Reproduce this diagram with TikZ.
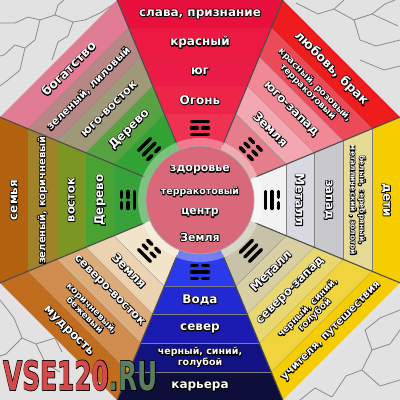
\documentclass[tikz,border=0pt]{standalone}
\usepackage{fontspec}
\setmainfont{DejaVu Sans}
\usetikzlibrary{calc}

\definecolor{bg}{HTML}{E2E2E2}
\definecolor{crack}{HTML}{8C8C8C}
\definecolor{s1}{HTML}{E8103C}\definecolor{s2}{HTML}{EC1A42}\definecolor{s3}{HTML}{EA1C46}\definecolor{s4}{HTML}{EE2449}\definecolor{s5}{HTML}{F03252}
\definecolor{sw1}{HTML}{EE1C1C}\definecolor{sw2}{HTML}{EC4A58}\definecolor{sw3}{HTML}{F08896}\definecolor{sw4}{HTML}{F3A7B0}\definecolor{sw5}{HTML}{E57E8A}
\definecolor{we1}{HTML}{F6CD00}\definecolor{we2}{HTML}{E6DA94}\definecolor{we3}{HTML}{C9C9CD}\definecolor{we4}{HTML}{D9D9E4}\definecolor{we5}{HTML}{F2F2F2}
\definecolor{nw1}{HTML}{F6CD00}\definecolor{nw2}{HTML}{F1D33C}\definecolor{nw3}{HTML}{E9D772}\definecolor{nw4}{HTML}{D8D0A2}\definecolor{nw5}{HTML}{C8C3A8}
\definecolor{n1}{HTML}{0E0E3A}\definecolor{n2}{HTML}{121282}\definecolor{n3}{HTML}{1B1BB2}\definecolor{n4}{HTML}{2129D2}\definecolor{n5}{HTML}{2A3AEA}
\definecolor{ne1}{HTML}{C26C1E}\definecolor{ne2}{HTML}{D08D4E}\definecolor{ne3}{HTML}{DCAC7A}\definecolor{ne4}{HTML}{EBD3B1}\definecolor{ne5}{HTML}{F2E4C8}
\definecolor{e1}{HTML}{B2620E}\definecolor{e2}{HTML}{A0822A}\definecolor{e3}{HTML}{7B9622}\definecolor{e4}{HTML}{4AA232}\definecolor{e5}{HTML}{38A23A}
\definecolor{se1}{HTML}{E27C94}\definecolor{se2}{HTML}{B98686}\definecolor{se3}{HTML}{A19A7A}\definecolor{se4}{HTML}{58A242}\definecolor{se5}{HTML}{32A234}
\definecolor{cpink}{HTML}{D9687A}
\definecolor{logored}{HTML}{D24A4A}
\definecolor{logogreen}{HTML}{5A7E5A}

% outlined text: a stroked black copy under a filled coloured copy
\newcommand\olc[2]{{\setbox0=\hbox{#2}%
\rlap{\color{black}\special{pdf:code 1 Tr 1.6 w 1 j 0 G}\copy0\special{pdf:code 0 Tr}}%
\color{#1}\box0}}
\newcommand\olt[1]{\olc{white}{#1}}
\newcommand\fs[2]{\fontsize{#1}{#2}\selectfont}

\tikzset{
  lbl/.style={inner sep=0pt, align=center},
  sepline/.style={draw=black!70, line width=1.1pt},
  bandedge/.style={draw=black!50, line width=0.6pt},
  tri/.style={line width=3.4pt, line cap=round, draw=black},
  crk/.style={draw=crack, line width=0.8pt, line join=round}
}

\newcommand\bandq[4]{\fill[#4] (#1-22.5:#2) -- (#1+22.5:#2) -- (#1+22.5:#3) -- (#1-22.5:#3) -- cycle;
  \draw[bandedge] (#1-22.5:#3) -- (#1+22.5:#3);}
\newcommand\sect[6]{\bandq{#1}{216.48}{186.17}{#2}\bandq{#1}{186.17}{154.78}{#3}%
  \bandq{#1}{154.78}{123.39}{#4}\bandq{#1}{123.39}{93.09}{#5}%
  \fill[#6] (#1-22.5:93.09) -- (#1+22.5:93.09) -- (0,0) -- cycle;}
\newcommand\trl[2]{\ifnum#2=1 \draw[tri] (-8.5,#1) -- (8.5,#1);\else \draw[tri] (-8.5,#1) -- (-2.6,#1) (2.6,#1) -- (8.5,#1);\fi}
\newcommand\trig[4]{\begin{scope}[shift={(#1:72)}, rotate=#1-90]
  \trl{6.5}{#2}\trl{0}{#3}\trl{-6.5}{#4}\end{scope}}

\begin{document}
\begin{tikzpicture}[x=1pt,y=1pt]
\useasboundingbox (-200,-200) rectangle (200,200);
\fill[bg] (-200,-200) rectangle (200,200);

% cracks in the background (image coordinates)
\begin{scope}[shift={(-200,200)}, yscale=-1]
\draw[crk] (0,23) -- (15,23) -- (28,17) -- (40,20) -- (55,15) -- (73,22) -- (85,20) -- (100,13) -- (114,4);
\draw[crk] (40,20) -- (35,40) -- (25,48) -- (15,45) -- (4,55) -- (0,56);
\draw[crk] (55,15) -- (58,5) -- (64,0);
\draw[crk] (25,48) -- (20,70) -- (8,80) -- (0,86);
\draw[crk] (73,22) -- (68,36) -- (58,42) -- (52,60);
\draw[crk] (296,3) -- (318,14) -- (334,9) -- (354,20) -- (372,14) -- (398,26);
\draw[crk] (334,9) -- (344,0);
\draw[crk] (354,20) -- (360,40) -- (376,46) -- (400,40);
\draw[crk] (372,14) -- (385,4) -- (395,0);
\draw[crk] (360,60) -- (384,70) -- (400,66);
\draw[crk] (332,397) -- (346,376) -- (362,370) -- (372,350) -- (390,344) -- (400,330);
\draw[crk] (362,370) -- (380,386) -- (400,380);
\draw[crk] (372,350) -- (365,330) -- (380,318) -- (400,310);
\draw[crk] (300,400) -- (315,388) -- (332,397);
\draw[crk] (0,300) -- (14,318) -- (22,338) -- (36,344) -- (46,364) -- (60,372);
\draw[crk] (22,338) -- (6,354) -- (0,356);
\draw[crk] (36,344) -- (55,338) -- (62,352);
\end{scope}

% sectors: angle, band colours from outside to inside
\sect{90}{s1}{s2}{s3}{s4}{s5}
\sect{45}{sw1}{sw2}{sw3}{sw4}{sw5}
\sect{0}{we1}{we2}{we3}{we4}{we5}
\sect{-45}{nw1}{nw2}{nw3}{nw4}{nw5}
\sect{-90}{n1}{n2}{n3}{n4}{n5}
\sect{-135}{ne1}{ne2}{ne3}{ne4}{ne5}
\sect{180}{e1}{e2}{e3}{e4}{e5}
\sect{135}{se1}{se2}{se3}{se4}{se5}

\foreach \a in {22.5,67.5,...,337.5} \draw[sepline] (\a:60) -- (\a:216.48);

% trigrams (outer, middle, inner line; 1 = solid)
\trig{90}{1}{0}{1}
\trig{45}{0}{0}{0}
\trig{0}{0}{1}{1}
\trig{-45}{1}{1}{1}
\trig{-90}{0}{1}{0}
\trig{-135}{1}{0}{0}
\trig{180}{0}{0}{1}
\trig{135}{1}{1}{0}

% centre
\fill[white, opacity=0.35] (0,0) circle (62);
\fill[cpink] (0,0) circle (54);
\draw[black!35, line width=0.8pt] (0,0) circle (54);

% south
\node[lbl, font=\bfseries\fs{12}{13}] (s1t) at (90:186) {\olt{слава, признание}};
\node[lbl, font=\bfseries\fs{12}{13}] (s2t) at (90:157.5) {\olt{красный}};
\node[lbl, font=\bfseries\fs{12}{13}] (s3t) at (90:128.5) {\olt{юг}};
\node[lbl, font=\bfseries\fs{12}{13}] (s4t) at (90:100) {\olt{Огонь}};
% south-west
\node[lbl, rotate=-45, font=\bfseries\fs{12.5}{13}] (sw1t) at (45:186) {\olt{любовь, брак}};
\node[lbl, rotate=-45, font=\bfseries\fs{9}{10}] (sw2t) at (45:157.5) {\olt{красный, розовый,}\\\olt{терракотовый}};
\node[lbl, rotate=-45, font=\bfseries\fs{12}{13}] (sw3t) at (45:128.5) {\olt{юго-запад}};
\node[lbl, rotate=-45, font=\bfseries\fs{12}{13}] (sw4t) at (45:100) {\olt{Земля}};
% west
\node[lbl, rotate=-90, font=\bfseries\fs{12}{13}] (we1t) at (0:186) {\olt{дети}};
\node[lbl, rotate=-90, font=\bfseries\fs{7.5}{9}] (we2t) at (0:157.5) {\olt{белый, серебряный,}\\\olt{металлический , золотой}};
\node[lbl, rotate=-90, font=\bfseries\fs{11.5}{13}] (we3t) at (0:128.5) {\olt{запад}};
\node[lbl, rotate=-90, font=\bfseries\fs{12}{13}] (we4t) at (0:100) {\olt{Металл}};
% north-west
\node[lbl, rotate=45, font=\bfseries\fs{10.5}{12}] (nw1t) at (-45:186) {\olt{учителя, путешествия}};
\node[lbl, rotate=45, font=\bfseries\fs{9}{10}] (nw2t) at (-45:157.5) {\olt{черный, синий,}\\\olt{голубой}};
\node[lbl, rotate=45, font=\bfseries\fs{11.5}{13}] (nw3t) at (-45:128.5) {\olt{северо-запад}};
\node[lbl, rotate=45, font=\bfseries\fs{12}{13}] (nw4t) at (-45:100) {\olt{Металл}};
% north
\node[lbl, font=\bfseries\fs{12}{13}] (n1t) at (-90:186) {\olt{карьера}};
\node[lbl, font=\bfseries\fs{9.5}{10.5}] (n2t) at (-90:157.5) {\olt{черный, синий,}\\\olt{голубой}};
\node[lbl, font=\bfseries\fs{12}{13}] (n3t) at (-90:128.5) {\olt{север}};
\node[lbl, font=\bfseries\fs{12}{13}] (n4t) at (-90:100) {\olt{Вода}};
% north-east
\node[lbl, rotate=-45, font=\bfseries\fs{12}{13}] (ne1t) at (-135:186) {\olt{мудрость}};
\node[lbl, rotate=-45, font=\bfseries\fs{9}{10}] (ne2t) at (-135:157.5) {\olt{коричневый,}\\\olt{бежевый}};
\node[lbl, rotate=-45, font=\bfseries\fs{11.5}{13}] (ne3t) at (-135:128.5) {\olt{северо-восток}};
\node[lbl, rotate=-45, font=\bfseries\fs{12}{13}] (ne4t) at (-135:100) {\olt{Земля}};
% east
\node[lbl, rotate=90, font=\bfseries\fs{12}{13}] (e1t) at (180:186) {\olt{семья}};
\node[lbl, rotate=90, font=\bfseries\fs{10}{11}] (e2t) at (180:157.5) {\olt{зеленый, коричневый}};
\node[lbl, rotate=90, font=\bfseries\fs{11.5}{13}] (e3t) at (180:128.5) {\olt{восток}};
\node[lbl, rotate=90, font=\bfseries\fs{12}{13}] (e4t) at (180:100) {\olt{Дерево}};
% south-east
\node[lbl, rotate=45, font=\bfseries\fs{12.5}{13}] (se1t) at (135:186) {\olt{богатство}};
\node[lbl, rotate=45, font=\bfseries\fs{10.5}{12}] (se2t) at (135:157.5) {\olt{зеленый, лиловый}};
\node[lbl, rotate=45, font=\bfseries\fs{11.5}{13}] (se3t) at (135:128.5) {\olt{юго-восток}};
\node[lbl, rotate=45, font=\bfseries\fs{12}{13}] (se4t) at (135:100) {\olt{Дерево}};
% centre texts
\node[lbl, font=\bfseries\fs{11}{12}] (c1) at (0,30) {\olt{здоровье}};
\node[lbl, font=\bfseries\fs{9.5}{11}] (c2) at (0,8) {\olt{терракотовый}};
\node[lbl, font=\bfseries\fs{11}{12}] (c3) at (0,-13) {\olt{центр}};
\node[lbl, font=\bfseries\fs{11}{12}] (c4) at (0,-37) {\olt{Земля}};

% logo
\node[inner sep=0pt, anchor=base west, font=\bfseries\fs{40}{40}, xscale=0.62] (logo) at (-197,-190) {\olc{logored}{VSE120}\olc{logogreen}{.RU}};
\end{tikzpicture}
\end{document}
